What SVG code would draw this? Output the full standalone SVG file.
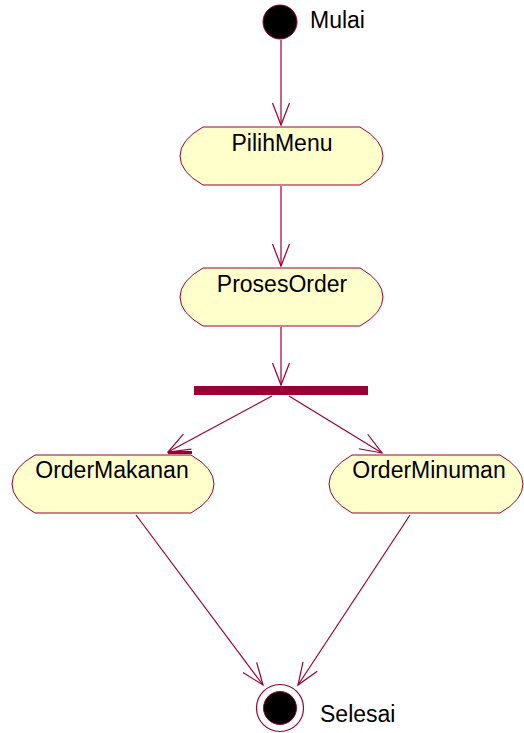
<svg xmlns="http://www.w3.org/2000/svg" width="524" height="733" viewBox="0 0 524 733">
<style>
.act{fill:#FFFFCC;stroke:#990033;stroke-width:1}
.lbl{font-family:"Liberation Sans",Arial,sans-serif;font-size:23px;fill:#000}
.edge{stroke:#990033;stroke-width:1.2;fill:none;marker-end:url(#arr)}
</style>
<defs>
<marker id="arr" markerUnits="userSpaceOnUse" markerWidth="30" markerHeight="30" refX="0" refY="0" orient="auto" overflow="visible">
<path d="M-22,-8.5 L0,0 L-22,8.5" fill="none" stroke="#990033" stroke-width="1.2"/>
</marker>
</defs>
<rect width="524" height="733" fill="#fff"/>
<g id="connectors">
<line class="edge" x1="281" y1="40" x2="281" y2="125"/>
<line class="edge" x1="281" y1="186" x2="281" y2="266"/>
<line class="edge" x1="281" y1="327" x2="281" y2="385"/>
<line class="edge" x1="272" y1="396" x2="168" y2="452"/>
<rect x="168" y="451" width="24" height="3" fill="#990033"/>
<line class="edge" x1="289" y1="396" x2="382" y2="453"/>
<line class="edge" x1="136" y1="515" x2="263" y2="685"/>
<line class="edge" x1="410" y1="515" x2="298" y2="685"/>
</g>
<g id="start">
<circle cx="280" cy="22" r="17" fill="#000" stroke="#990033" stroke-width="1"/>
<text class="lbl" x="310" y="28">Mulai</text>
</g>
<g id="PilihMenu">
<path class="act" d="M203,127 L360,127 Q383,140 383,156 Q383,172 360,185 L203,185 Q180,172 180,156 Q180,140 203,127 Z"/>
<text class="lbl" x="282" y="151" text-anchor="middle">PilihMenu</text>
</g>
<g id="ProsesOrder">
<path class="act" d="M203,268 L360,268 Q383,281 383,297 Q383,313 360,326 L203,326 Q180,313 180,297 Q180,281 203,268 Z"/>
<text class="lbl" x="282" y="292" text-anchor="middle">ProsesOrder</text>
</g>
<g id="fork">
<rect x="194" y="386" width="174" height="9" fill="#990033"/>
</g>
<g id="OrderMakanan">
<path class="act" d="M35,455 L191,455 Q214,468 214,484 Q214,500 191,513 L35,513 Q12,500 12,484 Q12,468 35,455 Z"/>
<text class="lbl" x="112" y="478" text-anchor="middle">OrderMakanan</text>
</g>
<g id="OrderMinuman">
<path class="act" d="M352,455 L500,455 Q523,468 523,484 Q523,500 500,513 L352,513 Q329,500 329,484 Q329,468 352,455 Z"/>
<text class="lbl" x="429" y="478" text-anchor="middle">OrderMinuman</text>
</g>
<g id="end">
<circle cx="280" cy="708" r="23.5" fill="#fff" stroke="#990033" stroke-width="1.2"/>
<circle cx="280" cy="708" r="16.5" fill="#000" stroke="#990033" stroke-width="1"/>
<text class="lbl" x="320" y="722">Selesai</text>
</g>
</svg>
